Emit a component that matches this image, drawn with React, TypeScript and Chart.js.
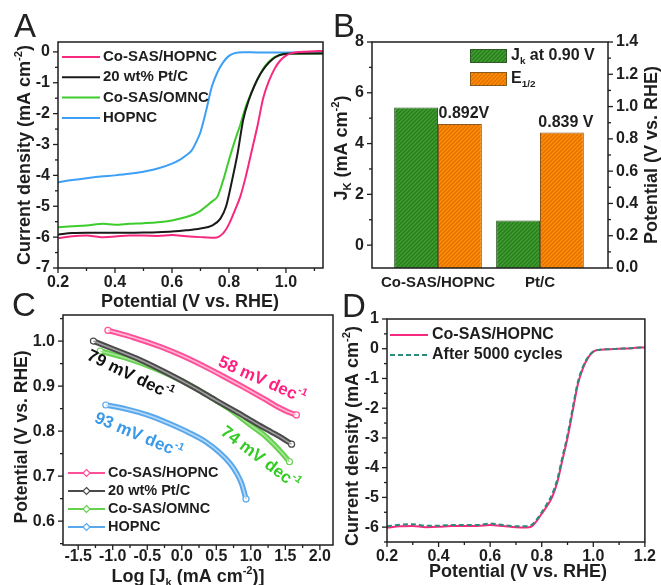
import React, { useEffect, useRef } from 'react';
import { Chart, registerables } from 'chart.js';
Chart.register(...registerables);

const FONT = '"Liberation Sans", Arial, Helvetica, sans-serif';
const INK = '#1e1e1e';
const W = 661;
const H = 585;

type Pt = [number, number];

// ---------------- Panel A : LSV curves ----------------
const aSeriesNames = ['Co-SAS/HOPNC', '20 wt% Pt/C', 'Co-SAS/OMNC', 'HOPNC'];
const aCoSasHopnc: Pt[] = [
  [0.2, -6.03], [0.25, -5.97], [0.3, -5.95], [0.35, -6.0], [0.4, -5.98], [0.45, -5.95], [0.5, -5.95],
  [0.55, -5.96], [0.6, -5.93], [0.65, -5.97], [0.7, -6.0], [0.75, -6.02], [0.78, -5.87], [0.8, -5.58],
  [0.82, -5.15], [0.84, -4.68], [0.86, -4.0], [0.88, -3.2], [0.9, -2.4], [0.92, -1.5], [0.94, -0.95],
  [0.96, -0.55], [0.98, -0.28], [1.0, -0.12], [1.02, -0.04], [1.05, 0.0], [1.1, 0.02], [1.13, 0.03],
];
const aPtC: Pt[] = [
  [0.2, -5.92], [0.25, -5.87], [0.3, -5.86], [0.4, -5.86], [0.5, -5.85], [0.55, -5.84], [0.6, -5.82],
  [0.65, -5.78], [0.7, -5.72], [0.74, -5.63], [0.77, -5.4], [0.79, -5.0], [0.81, -4.2], [0.83, -3.3],
  [0.85, -2.2], [0.87, -1.55], [0.89, -1.08], [0.91, -0.72], [0.93, -0.45], [0.95, -0.26], [0.97, -0.14],
  [0.99, -0.08], [1.02, -0.05], [1.13, -0.05],
];
const aCoSasOmnc: Pt[] = [
  [0.2, -5.68], [0.25, -5.65], [0.3, -5.62], [0.36, -5.57], [0.4, -5.6], [0.45, -5.57], [0.5, -5.55],
  [0.55, -5.52], [0.6, -5.46], [0.65, -5.35], [0.68, -5.25], [0.7, -5.15], [0.72, -5.0], [0.74, -4.85],
  [0.76, -4.68], [0.78, -4.15], [0.8, -3.5], [0.82, -2.9], [0.84, -2.35], [0.86, -1.75], [0.88, -1.3],
  [0.9, -0.9], [0.92, -0.55], [0.94, -0.32], [0.96, -0.17], [0.98, -0.09], [1.0, -0.06], [1.13, -0.05],
];
const aHopnc: Pt[] = [
  [0.2, -4.22], [0.25, -4.15], [0.3, -4.09], [0.35, -4.04], [0.4, -4.0], [0.45, -3.95], [0.5, -3.88],
  [0.55, -3.78], [0.6, -3.62], [0.63, -3.48], [0.65, -3.35], [0.67, -3.18], [0.69, -2.82], [0.7, -2.6],
  [0.72, -1.9], [0.74, -1.12], [0.76, -0.65], [0.78, -0.33], [0.8, -0.13], [0.82, -0.04], [0.85, -0.01],
  [0.9, -0.02], [1.13, -0.02],
];

// ---------------- Panel B : bars ----------------
const bCategories = ['Co-SAS/HOPNC', 'Pt/C'];
const bJk = [5.42, 0.97];
const bE12 = [0.892, 0.839];
const bE12Labels = ['0.892V', '0.839 V'];

// ---------------- Panel C : Tafel ----------------
const cSeriesNames = ['Co-SAS/HOPNC', '20 wt% Pt/C', 'Co-SAS/OMNC', 'HOPNC'];
const cCoSasHopnc: Pt[] = [
  [-1.07, 1.024], [-0.7, 1.008], [-0.3, 0.987], [0.0, 0.968], [0.3, 0.946], [0.6, 0.922], [0.9, 0.897],
  [1.2, 0.871], [1.4, 0.853], [1.55, 0.842], [1.66, 0.836],
];
const cPtC: Pt[] = [
  [-1.28, 1.0], [-1.0, 0.983], [-0.6, 0.958], [-0.2, 0.928], [0.2, 0.895], [0.5, 0.868], [0.8, 0.842],
  [1.1, 0.815], [1.3, 0.798], [1.45, 0.785], [1.59, 0.771],
];
const cCoSasOmnc: Pt[] = [
  [-1.18, 0.978], [-0.8, 0.962], [-0.4, 0.94], [0.0, 0.912], [0.4, 0.877], [0.7, 0.848], [1.0, 0.813],
  [1.2, 0.79], [1.4, 0.76], [1.56, 0.732],
];
const cHopnc: Pt[] = [
  [-1.1, 0.858], [-0.8, 0.849], [-0.5, 0.836], [-0.2, 0.818], [0.1, 0.797], [0.35, 0.776], [0.55, 0.752],
  [0.7, 0.728], [0.8, 0.705], [0.87, 0.682], [0.93, 0.649],
];
const cSlopes = ['58', '79', '74', '93'];

// ---------------- Panel D : stability ----------------
const dSeriesNames = ['Co-SAS/HOPNC', 'After 5000 cycles'];
const dInitial: Pt[] = [
  [0.2, -6.02], [0.25, -5.97], [0.3, -5.96], [0.35, -6.0], [0.4, -5.99], [0.45, -5.96], [0.5, -5.96],
  [0.55, -5.96], [0.6, -5.93], [0.65, -5.96], [0.7, -6.0], [0.74, -6.01], [0.76, -5.98], [0.78, -5.8],
  [0.8, -5.55], [0.82, -5.3], [0.84, -5.0], [0.86, -4.5], [0.88, -3.75], [0.9, -3.0], [0.92, -2.1],
  [0.94, -1.2], [0.96, -0.65], [0.98, -0.3], [1.0, -0.1], [1.02, -0.04], [1.05, -0.02], [1.1, 0.0],
  [1.15, 0.02], [1.2, 0.05],
];
const dAfter: Pt[] = [
  [0.2, -5.97], [0.25, -5.92], [0.3, -5.9], [0.35, -5.95], [0.4, -5.95], [0.45, -5.93], [0.5, -5.93],
  [0.55, -5.93], [0.6, -5.88], [0.65, -5.93], [0.7, -5.97], [0.74, -5.97], [0.76, -5.93], [0.78, -5.75],
  [0.8, -5.5], [0.82, -5.22], [0.84, -4.9], [0.86, -4.4], [0.88, -3.65], [0.9, -2.9], [0.92, -2.0],
  [0.94, -1.12], [0.96, -0.6], [0.98, -0.27], [1.0, -0.09], [1.02, -0.04], [1.05, -0.02], [1.1, 0.0],
  [1.15, 0.02], [1.2, 0.05],
];

// ---------------- helpers ----------------
const PINK = '#f7297e';
const BLACK = '#1a1a1a';
const GREEN = '#3ccc2c';
const BLUE = '#3d9ff5';
const TEAL = '#2b8a78';

const toXY = (arr: Pt[]) => arr.map(([x, y]) => ({ x, y }));
const near = (v: number, m: number) => Math.abs(v / m - Math.round(v / m)) < 1e-6;

type Part = { t: string; v?: 'sup' | 'sub' };

function rich(
  ctx: CanvasRenderingContext2D, parts: Part[], x: number, y: number, size: number,
  color: string, rot = 0, align: 'center' | 'left' = 'center', weight = 'bold',
) {
  ctx.save();
  ctx.translate(x, y);
  ctx.rotate(rot);
  ctx.textBaseline = 'middle';
  ctx.textAlign = 'left';
  ctx.fillStyle = color;
  const sz = (p: Part) => (p.v ? size * 0.62 : size);
  const widths = parts.map((p) => {
    ctx.font = `${weight} ${sz(p)}px ${FONT}`;
    return ctx.measureText(p.t).width;
  });
  const total = widths.reduce((a, b) => a + b, 0);
  let cx = align === 'center' ? -total / 2 : 0;
  parts.forEach((p, i) => {
    ctx.font = `${weight} ${sz(p)}px ${FONT}`;
    const dy = p.v === 'sup' ? -size * 0.36 : p.v === 'sub' ? size * 0.32 : 0;
    ctx.fillText(p.t, cx, dy);
    cx += widths[i];
  });
  ctx.restore();
}

function letter(ctx: CanvasRenderingContext2D, t: string, x: number, y: number) {
  ctx.save();
  ctx.font = `normal 33px ${FONT}`;
  ctx.fillStyle = '#222';
  ctx.textAlign = 'left';
  ctx.textBaseline = 'alphabetic';
  ctx.fillText(t, x, y);
  ctx.restore();
}

function frameAndTicks(chart: any, skip: string[] = []) {
  const ctx: CanvasRenderingContext2D = chart.ctx;
  ctx.save();
  ctx.strokeStyle = INK;
  ctx.lineWidth = 1.3;
  Object.values(chart.scales).forEach((s: any) => {
    if (s.type === 'category' || skip.includes(s.id)) return;
    s.ticks.forEach((t: any, i: number) => {
      const major = t.label !== '' && t.label != null;
      const len = major ? 5 : 3;
      const p = s.getPixelForTick(i);
      ctx.beginPath();
      if (s.position === 'left') { ctx.moveTo(s.right, p); ctx.lineTo(s.right - len, p); }
      else if (s.position === 'right') { ctx.moveTo(s.left, p); ctx.lineTo(s.left + len, p); }
      else { ctx.moveTo(p, s.top); ctx.lineTo(p, s.top + len); }
      ctx.stroke();
    });
  });
  const a = chart.chartArea;
  ctx.lineWidth = 1.5;
  ctx.strokeRect(a.left, a.top, a.right - a.left, a.bottom - a.top);
  ctx.restore();
}

function lin(
  pos: string, min: number, max: number, step: number, isMajor: (v: number) => boolean,
  fmt: (v: number) => string, size: number, pad: number, fontSize = 16,
) {
  return {
    type: 'linear', position: pos, min, max, offset: false,
    grid: { display: false, drawTicks: false },
    border: { display: false },
    ticks: {
      stepSize: step, autoSkip: false, includeBounds: false, padding: pad, color: INK,
      maxRotation: 0, minRotation: 0,
      font: { family: FONT, size: fontSize, weight: 'bold' },
      callback: (v: any) => (isMajor(Number(v)) ? fmt(Number(v)) : ''),
    },
    afterFit: (s: any) => { if (pos === 'bottom') s.height = size; else s.width = size; },
  };
}

const baseOpts = (padding: any) => ({
  animation: false, responsive: false, devicePixelRatio: 1,
  layout: { padding },
  plugins: { legend: { display: false }, tooltip: { enabled: false } },
  elements: { point: { radius: 0 } },
});

const line = (arr: Pt[], color: string, width = 2, extra: any = {}) => ({
  data: toXY(arr), borderColor: color, borderWidth: width, pointRadius: 0, fill: false,
  cubicInterpolationMode: 'monotone', ...extra,
});

const POT: Part[] = [{ t: 'Potential (V vs. RHE)' }];
const CD: Part[] = [{ t: 'Current density (mA cm' }, { t: '-2', v: 'sup' }, { t: ')' }];

// ---------------- Chart A ----------------
function makeA() {
  const colors = [PINK, BLACK, GREEN, BLUE];
  return {
    type: 'line',
    data: {
      datasets: [aCoSasHopnc, aPtC, aCoSasOmnc, aHopnc].map((d, i) => ({ label: aSeriesNames[i], ...line(d, colors[i]) })),
    },
    options: {
      ...baseOpts({ left: 0, top: 42, right: W - 323, bottom: H - 268 - 30 }),
      scales: {
        x: lin('bottom', 0.2, 1.13, 0.1, (v) => near(v, 0.2), (v) => v.toFixed(1), 30, 5),
        y: lin('left', -7, 0.32, 0.5, (v) => near(v, 1), (v) => String(Math.round(v)), 58, 8),
      },
    },
    plugins: [{
      id: 'decorA',
      afterDraw(chart: any) {
        const ctx = chart.ctx;
        frameAndTicks(chart);
        letter(ctx, 'A', 14, 37);
        rich(ctx, CD, 25, 155, 18, INK, -Math.PI / 2);
        rich(ctx, POT, 190, 302, 18, INK);
        chart.data.datasets.forEach((ds: any, i: number) => {
          const y = 57 + i * 20.3;
          ctx.save();
          ctx.strokeStyle = ds.borderColor; ctx.lineWidth = 2;
          ctx.beginPath(); ctx.moveTo(62, y); ctx.lineTo(100, y); ctx.stroke();
          ctx.restore();
          rich(ctx, [{ t: ds.label }], 103, y, 15, INK, 0, 'left');
        });
      },
    }],
  };
}

// ---------------- Chart B ----------------
function hatch(base: string, stripe: string) {
  const c = document.createElement('canvas');
  c.width = 4; c.height = 4;
  const g = c.getContext('2d')!;
  g.fillStyle = base; g.fillRect(0, 0, 4, 4);
  g.strokeStyle = stripe; g.lineWidth = 1.1;
  g.beginPath();
  g.moveTo(0, 4); g.lineTo(4, 0);
  g.moveTo(-1, 1); g.lineTo(1, -1);
  g.moveTo(3, 5); g.lineTo(5, 3);
  g.stroke();
  return g.createPattern(c, 'repeat')!;
}

const B_Y_MIN = -0.9;

function makeB() {
  const gPat = hatch('#3c9c2c', '#2a7520');
  const oPat = hatch('#ff8a05', '#d86e00');
  const pos = (i: number) => i + 1;
  return {
    type: 'bar',
    data: {
      datasets: [
        { label: 'Jk', data: bJk.map((v, i) => ({ x: pos(i), y: v })), yAxisID: 'y', backgroundColor: gPat,
          borderColor: '#2f5a25', borderWidth: 1, base: B_Y_MIN, categoryPercentage: 0.86, barPercentage: 1 },
        { label: 'E12', data: bE12.map((v, i) => ({ x: pos(i), y: v })), yAxisID: 'y1', backgroundColor: oPat,
          borderColor: '#8a5a1c', borderWidth: 1, categoryPercentage: 0.86, barPercentage: 1 },
      ],
    },
    options: {
      ...baseOpts({ left: 330, top: 42, right: W - 608 - 45, bottom: H - 268 - 30 }),
      scales: {
        x: lin('bottom', 0.353, 2.667, 1, () => true, (v) => bCategories[Math.round(v) - 1] ?? '', 30, 6, 15),
        y: lin('left', B_Y_MIN, 8, 1, (v) => near(v, 2), (v) => String(Math.round(v)), 42, 8),
        y1: lin('right', 0, 1.4, 0.1, (v) => near(v, 0.2), (v) => v.toFixed(1), 45, 8),
      },
    },
    plugins: [{
      id: 'decorB',
      afterDraw(chart: any) {
        const ctx = chart.ctx;
        frameAndTicks(chart, ['x']);
        letter(ctx, 'B', 333, 37);
        rich(ctx, [{ t: 'J' }, { t: 'K', v: 'sub' }, { t: ' (mA cm' }, { t: '-2', v: 'sup' }, { t: ')' }],
          342, 148, 18, INK, -Math.PI / 2);
        rich(ctx, POT, 652, 155, 18, INK, -Math.PI / 2);
        const meta = chart.getDatasetMeta(1);
        meta.data.forEach((bar: any, i: number) => {
          rich(ctx, [{ t: bE12Labels[i] }], bar.x + 4, bar.y - 10, 16, INK);
        });
        // legend
        const items: [any, Part[]][] = [
          [gPat, [{ t: 'J' }, { t: 'k', v: 'sub' }, { t: ' at 0.90 V' }]],
          [oPat, [{ t: 'E' }, { t: '1/2', v: 'sub' }]],
        ];
        items.forEach(([pat, parts], i) => {
          const y = 56 + i * 23;
          ctx.save();
          ctx.fillStyle = pat;
          ctx.fillRect(470, y - 7, 37, 14);
          ctx.strokeStyle = i === 0 ? '#2f5a25' : '#8a5a1c';
          ctx.lineWidth = 1;
          ctx.strokeRect(470.5, y - 6.5, 36, 13);
          ctx.restore();
          rich(ctx, parts, 511, y, 16, INK, 0, 'left');
        });
      },
    }],
  };
}

// ---------------- Chart C ----------------
const cOuter = ['#ff4f98', '#4a4a4a', '#66d04f', '#5aa8ec'];
const cInner = ['#ffb8d4', '#a0a0a0', '#a4e596', '#b8dbf8'];
const cText = ['#ff1f7f', '#111111', '#33cc22', '#3a9ae8'];
// label anchor in data units and text angle in degrees
const cLabelAnchors: Pt[] = [[1.16, 0.913], [-0.75, 0.924], [1.13, 0.74], [-0.63, 0.79]];
const cLabelAngles = [24, 26, 37, 23];

function makeC() {
  const series = [cCoSasHopnc, cPtC, cCoSasOmnc, cHopnc];
  const datasets: any[] = [];
  series.forEach((d, i) => {
    const last = d.length - 1;
    datasets.push({ label: cSeriesNames[i], ...line(d, cInner[i], 1.6), order: i * 2 });
    datasets.push({
      label: cSeriesNames[i], ...line(d, cOuter[i], 5.5), order: i * 2 + 1,
      pointRadius: (c: any) => (c.dataIndex === 0 || c.dataIndex === last ? 3 : 0),
      pointBackgroundColor: '#fff', pointBorderColor: cOuter[i], pointBorderWidth: 1.2,
    });
  });
  return {
    type: 'line',
    data: { datasets },
    options: {
      ...baseOpts({ left: 0, top: 315, right: W - 333, bottom: H - 545 - 25 }),
      scales: {
        x: lin('bottom', -1.72, 2.19, 0.25, (v) => near(v, 0.5), (v) => v.toFixed(1), 25, 2),
        y: lin('left', 0.547, 1.058, 0.05, (v) => near(v, 0.1), (v) => v.toFixed(1), 63, 8),
      },
    },
    plugins: [{
      id: 'decorC',
      afterDraw(chart: any) {
        const ctx = chart.ctx;
        frameAndTicks(chart);
        letter(ctx, 'C', 12, 316);
        rich(ctx, POT, 22, 437, 17.5, INK, -Math.PI / 2);
        rich(ctx, [{ t: 'Log [J' }, { t: 'k', v: 'sub' }, { t: ' (mA cm' }, { t: '-2', v: 'sup' }, { t: ')]' }],
          188, 577, 18, INK);
        const xs = chart.scales.x;
        const ys = chart.scales.y;
        cSlopes.forEach((s, i) => {
          const [dx, dy] = cLabelAnchors[i];
          rich(ctx, [{ t: `${s} mV dec` }, { t: '-1', v: 'sup' }],
            xs.getPixelForValue(dx), ys.getPixelForValue(dy), 17, cText[i], (cLabelAngles[i] * Math.PI) / 180);
        });
        cSeriesNames.forEach((name, i) => {
          const y = 473 + i * 18;
          ctx.save();
          ctx.strokeStyle = cOuter[i]; ctx.lineWidth = 2;
          ctx.beginPath(); ctx.moveTo(68, y); ctx.lineTo(105, y); ctx.stroke();
          ctx.fillStyle = '#fff'; ctx.lineWidth = 1.2;
          ctx.beginPath();
          ctx.moveTo(86.5, y - 3.5); ctx.lineTo(90, y); ctx.lineTo(86.5, y + 3.5); ctx.lineTo(83, y); ctx.closePath();
          ctx.fill(); ctx.stroke();
          ctx.restore();
          rich(ctx, [{ t: name }], 108, y, 14.5, INK, 0, 'left');
        });
      },
    }],
  };
}

// ---------------- Chart D ----------------
function makeD() {
  return {
    type: 'line',
    data: {
      datasets: [
        { label: dSeriesNames[1], ...line(dAfter, TEAL, 2, { borderDash: [5, 3] }), order: 0 },
        { label: dSeriesNames[0], ...line(dInitial, PINK, 2), order: 1 },
      ],
    },
    options: {
      ...baseOpts({ left: 330, top: 319, right: W - 650, bottom: H - 542 - 25 }),
      scales: {
        x: lin('bottom', 0.2, 1.2, 0.1, (v) => near(v, 0.2), (v) => v.toFixed(1), 25, 5),
        y: lin('left', -6.5, 1, 0.5, (v) => near(v, 1), (v) => String(Math.round(v)), 57, 8),
      },
    },
    plugins: [{
      id: 'decorD',
      afterDraw(chart: any) {
        const ctx = chart.ctx;
        frameAndTicks(chart);
        letter(ctx, 'D', 342, 317);
        rich(ctx, CD, 353, 436, 18, INK, -Math.PI / 2);
        rich(ctx, POT, 518, 572, 18, INK);
        const legend: [string, string, number[]][] = [
          [dSeriesNames[0], PINK, []],
          [dSeriesNames[1], TEAL, [5, 3]],
        ];
        legend.forEach(([name, color, dash], i) => {
          const y = 335 + i * 20;
          ctx.save();
          ctx.strokeStyle = color; ctx.lineWidth = 2; ctx.setLineDash(dash);
          ctx.beginPath(); ctx.moveTo(390, y); ctx.lineTo(428, y); ctx.stroke();
          ctx.restore();
          rich(ctx, [{ t: name }], 432, y, 16, INK, 0, 'left');
        });
      },
    }],
  };
}

function ChartLayer({ make }: { make: () => any }) {
  const ref = useRef<HTMLCanvasElement>(null);
  useEffect(() => {
    const chart = new Chart(ref.current as HTMLCanvasElement, make());
    return () => chart.destroy();
  }, [make]);
  return (
    <canvas
      ref={ref}
      width={W}
      height={H}
      style={{ position: 'absolute', left: 0, top: 0, width: W, height: H }}
    />
  );
}

export default function App() {
  return (
    <div style={{ position: 'absolute', left: 0, top: 0, width: W, height: H, background: '#fff', overflow: 'hidden' }}>
      <ChartLayer make={makeA} />
      <ChartLayer make={makeB} />
      <ChartLayer make={makeC} />
      <ChartLayer make={makeD} />
    </div>
  );
}
